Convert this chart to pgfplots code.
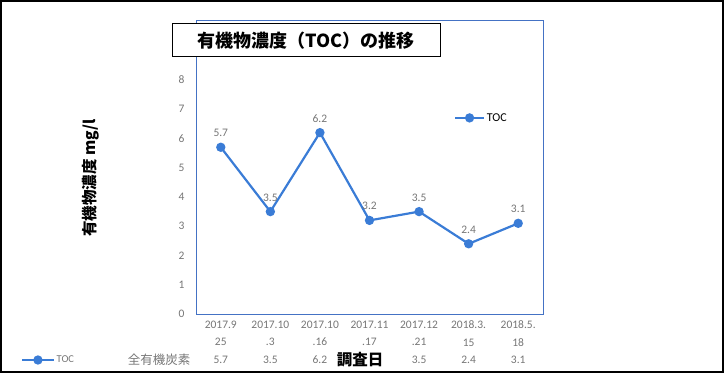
\documentclass[border=0pt]{standalone}
\usepackage{pgfplots}
\pgfplotsset{compat=1.18}
\usepackage{fontspec}
\setmainfont{Carlito}
\newfontfamily\jp{Noto Sans CJK JP}
\definecolor{lineblue}{RGB}{58,124,214}
\definecolor{frameblue}{RGB}{68,114,196}
\definecolor{tickgray}{RGB}{118,118,118}
\begin{document}
\begin{tikzpicture}[x=1pt,y=1pt]
\useasboundingbox (0,0) rectangle (724,373);
\begin{axis}[
  at={(196pt,59pt)}, anchor=south west,
  scale only axis, width=347pt, height=294pt,
  xmin=-0.5, xmax=6.5, ymin=0, ymax=10.05,
  axis line style={draw=frameblue, line width=0.8pt},
  xtick={0,...,6}, ytick={0,...,8},
  major tick length=0pt,
  /pgf/number format/assume math mode=true,
  xticklabels={{2017.9\\25\\5.7},{2017.10\\.3\\3.5},{2017.10\\.16\\6.2},{2017.11\\.17\\\strut},{2017.12\\.21\\3.5},{2018.3.\\15\\2.4},{2018.5.\\18\\3.1}},
  x tick label style={align=center, font=\fontsize{11.5}{17.5}\selectfont, text=tickgray, yshift=-3.5pt},
  y tick label style={font=\fontsize{11.5}{13}\selectfont, text=tickgray, xshift=-8pt},
  legend style={at={(0.735,0.667)}, anchor=west, draw=none, fill=none, font=\fontsize{12}{14}\selectfont, text=black},
  legend image code/.code={\draw[mark repeat=2,mark phase=2,#1] plot coordinates {(0cm,0cm) (0.5cm,0cm) (1cm,0cm)};},
  nodes near coords,
  every node near coord/.append style={font=\fontsize{11.5}{13}\selectfont, text=tickgray, anchor=south, yshift=6pt},
  nodes near coords style={/pgf/number format/fixed, /pgf/number format/precision=1, /pgf/number format/fixed zerofill},
]
\addplot[color=lineblue, line width=2.2pt, mark=*, mark size=3.5pt, mark options={fill=lineblue, draw=lineblue}]
  coordinates {(0,5.7) (1,3.5) (2,6.2) (3,3.2) (4,3.5) (5,2.4) (6,3.1)};
\addlegendentry{TOC}
\end{axis}
\begin{axis}[
  at={(0pt,0pt)}, anchor=south west,
  scale only axis, width=724pt, height=373pt,
  xmin=0, xmax=724, ymin=0, ymax=373, hide axis,
  legend style={at={(18/724,13/373)}, anchor=west, draw=none, fill=none, font=\fontsize{10.5}{12}\selectfont, text=tickgray},
  legend image code/.code={\draw[mark repeat=2,mark phase=2,#1] plot coordinates {(0cm,0cm) (0.55cm,0cm) (1.1cm,0cm)};},
]
\addlegendimage{color=lineblue, line width=2.2pt, mark=*, mark size=3.5pt, mark options={fill=lineblue, draw=lineblue}}
\addlegendentry{TOC}
\end{axis}
\draw[black, line width=1.6pt] (0.8,0.8) rectangle (723.2,372.2);
\node[draw=black, fill=white, line width=1pt, minimum width=268pt, minimum height=33pt, inner sep=0pt, font=\jp\bfseries\fontsize{18}{21}\selectfont] at (306,332.5) {有機物濃度（TOC）の推移};
\node[rotate=90, font=\jp\bfseries\fontsize{15.5}{18}\selectfont] at (91,195) {有機物濃度 mg/l};
\node[font=\jp\fontsize{12.5}{14}\selectfont, text=tickgray] at (159,13) {全有機炭素};
\node[fill=white, inner sep=1pt, font=\jp\bfseries\fontsize{15.5}{18}\selectfont] at (360,13.5) {調査日};
\end{tikzpicture}
\end{document}
